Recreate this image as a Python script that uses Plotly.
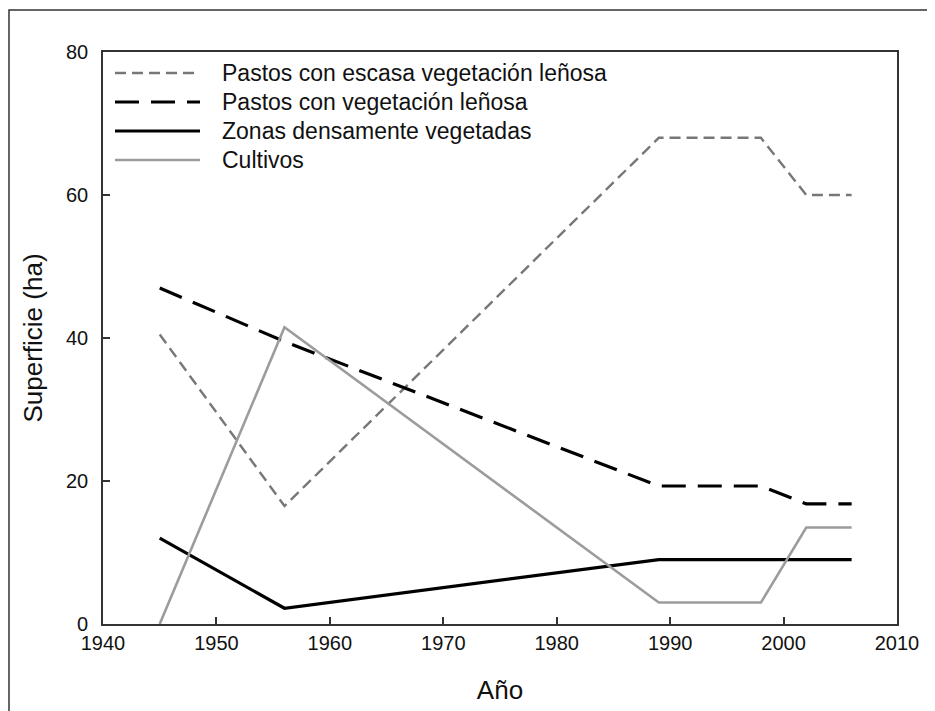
import plotly.graph_objects as go

years = [1945, 1956, 1989, 1998, 2002, 2006]
pastos_escasa = [40.5, 16.5, 68, 68, 60, 60]
pastos_lenosa = [47, 39.5, 19.3, 19.3, 16.8, 16.8]
zonas_densas = [12, 2.2, 9, 9, 9, 9]
cultivos = [0, 41.5, 3, 3, 13.5, 13.5]

names = ["Pastos con escasa vegetación leñosa", "Pastos con vegetación leñosa",
         "Zonas densamente vegetadas", "Cultivos"]
series = [pastos_escasa, pastos_lenosa, zonas_densas, cultivos]
styles = [dict(color="#777777", width=2.4, dash="11px,6px"),
          dict(color="#000000", width=3.2, dash="24px,12px"),
          dict(color="#000000", width=3.2, dash="solid"),
          dict(color="#9c9c9c", width=2.6, dash="solid")]

FONT = "Liberation Sans, Arial, sans-serif"

fig = go.Figure()
for nm, vals, st in zip(names, series, styles):
    fig.add_trace(go.Scatter(x=years, y=vals, mode="lines", name=nm, line=st, showlegend=False))

axis_common = dict(showgrid=False, zeroline=False, showline=True, linecolor="#333333",
                   linewidth=1.6, mirror=True, ticks="inside", ticklen=7,
                   tickcolor="#333333", tickwidth=1.5,
                   tickfont=dict(family=FONT, size=20, color="#111111"))

fig.update_xaxes(range=[1940, 2010], tickvals=[1940, 1950, 1960, 1970, 1980, 1990, 2000, 2010],
                 title=dict(text="Año", font=dict(family=FONT, size=26, color="#111111"),
                            standoff=28), **axis_common)
fig.update_yaxes(range=[0, 80], tickvals=[0, 20, 40, 60, 80], ticklabelstandoff=9,
                 title=dict(text="Superficie (ha)", font=dict(family=FONT, size=26, color="#111111"),
                            standoff=16), **axis_common)

# legend drawn as shapes + annotations (wide line samples like the original)
shapes = [dict(type="rect", xref="paper", yref="paper",
               x0=-0.1184, x1=1.06, y0=-0.17, y1=1.0734,
               line=dict(color="#333333", width=1.5), layer="below")]
annotations = []
leg_y = [0.9633, 0.9126, 0.8619, 0.8112]
for nm, st, yy in zip(names, styles, leg_y):
    shapes.append(dict(type="line", xref="paper", yref="paper", x0=0.0151, x1=0.1222,
                       y0=yy, y1=yy, line=dict(color=st["color"], width=st["width"], dash=st["dash"])))
    annotations.append(dict(xref="paper", yref="paper", x=0.1475, y=yy, xanchor="left",
                            yanchor="middle", text=nm, showarrow=False,
                            font=dict(family=FONT, size=23, color="#111111")))

fig.update_layout(
    width=927, height=703,
    margin=dict(l=95, r=38, t=44, b=87),
    paper_bgcolor="white", plot_bgcolor="white",
    font=dict(family=FONT, color="#111111"),
    shapes=shapes, annotations=annotations,
)

fig.write_html("out.html")
